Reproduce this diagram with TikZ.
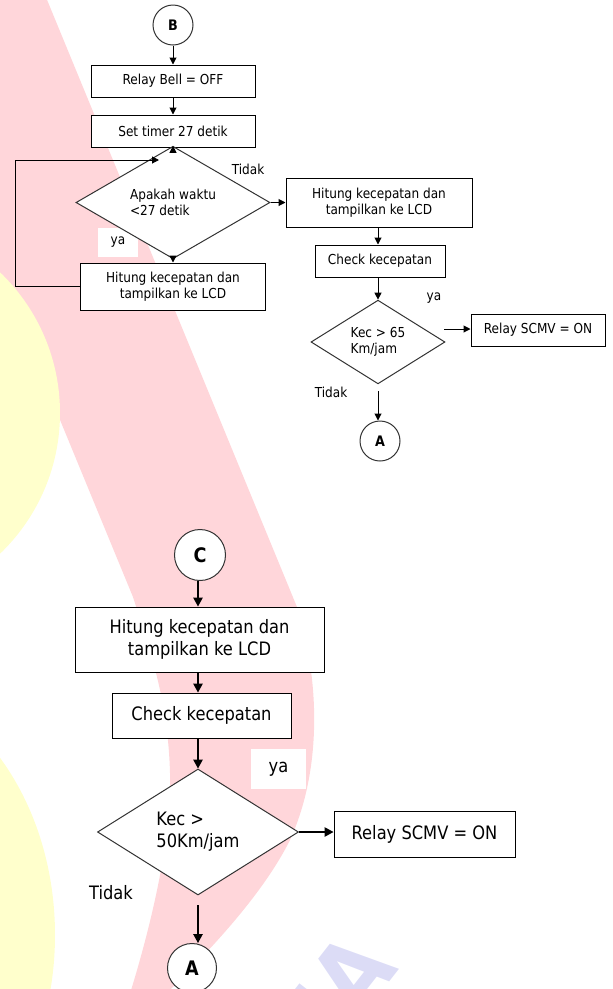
\documentclass[tikz,border=0pt]{standalone}
\usepackage{fontspec}
\setmainfont{DejaVu Sans}[FakeStretch=0.88]
\usetikzlibrary{arrows.meta,shapes.geometric}
\definecolor{bandpink}{HTML}{FFD6DA}
\definecolor{discyellow}{HTML}{FFFFCC}
\definecolor{marklav}{HTML}{DCDCF6}
\begin{document}
\begin{tikzpicture}[x=1pt,y=-1pt,
  smallfont/.style={font=\fontsize{13.75}{16}\selectfont},
  bigfont/.style={font=\fontsize{18.5}{22}\selectfont},
  box/.style={draw=black, line width=1pt, fill=white, inner sep=0pt, align=center},
  decision/.style={draw=black!80, line width=1pt, fill=white, diamond, inner sep=0pt, align=left},
  connector/.style={draw=black!80, line width=1pt, fill=white, circle, inner sep=0pt},
  lbl/.style={inner sep=0pt},
  yesbox/.style={fill=white, inner sep=0pt},
  arr/.style={line width=1pt, -{Triangle[length=7pt,width=7pt]}},
  bigarr/.style={line width=1.2pt, -{Triangle[length=9pt,width=9.5pt]}},
]
\useasboundingbox (0,0) rectangle (613,989);

% background watermark
\begin{scope}
  \clip (0,0) rectangle (613,989);
  \fill[bandpink] (-30,-10) -- (43,-10) -- (297,607)
    .. controls (320,680) and (322,770) .. (290,840)
    .. controls (260,900) and (200,960) .. (160,1000)
    -- (128,1000)
    .. controls (150,930) and (172,840) .. (170,773)
    .. controls (168,700) and (150,650) .. (133,597)
    -- (-10,250) -- (-30,250) -- cycle;
  \fill[discyellow] (-135,413) circle[radius=195];
  \fill[discyellow] (-150,935) ellipse[x radius=205, y radius=260];
  \node[rotate=52, anchor=base east, text=marklav,
        font=\bfseries\fontsize{96}{96}\selectfont] (markText) at (402,966) {NIA};
\end{scope}

% ---------- upper flow ----------
\node[connector, minimum size=40pt, font=\bfseries\fontsize{14.5}{14.5}\selectfont] (cB) at (173,25) {B};
\node[box, smallfont, minimum width=164pt, minimum height=32pt] (relayBell) at (173,81) {Relay Bell = OFF};
\node[box, smallfont, minimum width=164pt, minimum height=32pt] (timer) at (173,131) {Set timer 27 detik};
\node[yesbox, smallfont, minimum width=40pt, minimum height=29pt] (yesTop) at (118,242.5) {ya};
\node[decision, smallfont, minimum width=194pt, minimum height=73pt] (ask) at (173,202.5) {Apakah waktu\\<27 detik};
\node[box, smallfont, minimum width=185pt, minimum height=47pt] (calcL) at (173,286.5) {Hitung kecepatan dan\\tampilkan ke LCD};
\node[lbl, smallfont] (noTop) at (248,169) {Tidak};

\node[box, smallfont, minimum width=186pt, minimum height=49pt] (calcR) at (379,202.5) {Hitung kecepatan dan\\tampilkan ke LCD};
\node[box, smallfont, minimum width=130pt, minimum height=32pt] (checkR) at (380,261) {Check kecepatan};
\node[decision, smallfont, minimum width=134pt, minimum height=83pt] (kec65) at (378,342) {Kec > 65\\Km/jam};
\node[lbl, smallfont] (yesR) at (434,298) {ya};
\node[box, smallfont, minimum width=134pt, minimum height=32pt] (scmvTop) at (538,330) {Relay SCMV = ON};
\node[lbl, smallfont] (noR) at (331,392) {Tidak};
\node[connector, minimum size=40pt, font=\bfseries\fontsize{14.5}{14.5}\selectfont] (aTop) at (380,441) {A};

\coordinate (loopEnd) at (159,160);
\coordinate (yesStart65) at (444,329);
\coordinate (noStart65) at (378,391);

\draw[arr] (cB) -- (cB.south |- relayBell.north);
\draw[arr] (relayBell) -- (relayBell.south |- timer.north);
\draw[arr] (timer) -- (ask.north);
\draw[arr] (ask) -- (calcL.north);
\draw[arr] (calcL.west) -- ++(-64.5,0) |- (loopEnd);
\draw[arr] (ask.east) -- (ask.east -| calcR.west);
\draw[arr] (calcR.south -| kec65.north) -- (checkR.north -| kec65.north);
\draw[arr] (checkR.south -| kec65.north) -- (kec65.north);
\draw[arr] (yesStart65) -- (yesStart65 -| scmvTop.west);
\draw[arr] (noStart65) -- (noStart65 |- aTop.north);

% ---------- lower flow ----------
\node[connector, minimum size=51pt, font=\bfseries\fontsize{20}{20}\selectfont] (cC) at (200,555) {C};
\node[box, bigfont, minimum width=249pt, minimum height=65pt] (calcB) at (199.5,639.5) {Hitung kecepatan dan\\tampilkan ke LCD};
\node[box, bigfont, minimum width=179pt, minimum height=45pt] (checkB) at (201.5,715.5) {Check kecepatan};
\node[yesbox, bigfont, minimum width=55pt, minimum height=40pt] (yesB) at (278.5,769) {ya};
\node[decision, bigfont, minimum width=201pt, minimum height=126pt] (kec50) at (198,832) {Kec >\\50Km/jam};
\node[box, bigfont, minimum width=181pt, minimum height=46pt] (scmvB) at (424.5,834) {Relay SCMV = ON};
\node[lbl, bigfont] (noB) at (111,893) {Tidak};
\node[connector, minimum size=49pt, font=\bfseries\fontsize{20}{20}\selectfont] (aBot) at (192,968) {A};

\coordinate (noStart50) at (198,905);

\draw[bigarr] (cC.south -| kec50.north) -- (calcB.north -| kec50.north);
\draw[bigarr] (calcB.south -| kec50.north) -- (checkB.north -| kec50.north);
\draw[bigarr] (checkB.south -| kec50.north) -- (kec50.north);
\draw[bigarr] (kec50.east) -- (kec50.east -| scmvB.west);
\draw[bigarr] (noStart50) -- (noStart50 |- aBot.north);
\end{tikzpicture}
\end{document}
